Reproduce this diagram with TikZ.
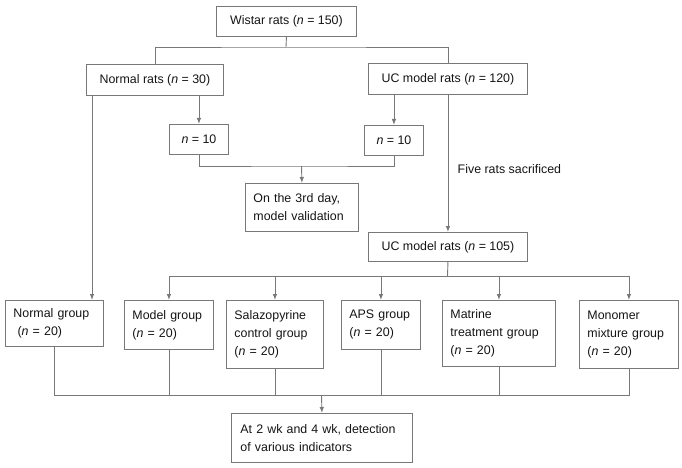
\documentclass[tikz,border=0pt]{standalone}
\usepackage{fontspec}
\setmainfont{Liberation Sans}
\usetikzlibrary{positioning,arrows.meta}
\definecolor{linegray}{HTML}{787878}
\definecolor{textgray}{HTML}{141414}

\tikzset{
  box/.style={draw=linegray, line width=0.9pt, text=textgray, inner sep=0pt,
    font=\fontsize{12.4}{18}\selectfont, anchor=north west},
  lbox/.style={box, align=left, inner xsep=8pt},
  conn/.style={draw=linegray, line width=0.9pt},
  arr/.style={conn, -{Latex[length=6pt,width=4.5pt]}}
}

\begin{document}
\begin{tikzpicture}[x=1pt,y=-1pt]
\useasboundingbox (0,0) rectangle (682,468);

% top of the tree
\node[box, minimum width=140, minimum height=30] (wistar) at (216,6) {Wistar rats (\textit{n} = 150)};
\node[box, minimum width=137, minimum height=31] (normal) at (86,64) {Normal rats (\textit{n} = 30)};
\node[box, minimum width=159, minimum height=31] (ucm) at (368,63) {UC model rats (\textit{n} = 120)};

\node[box, minimum width=59, minimum height=30] (na) at (169,124) {\textit{n} = 10};
\node[box, minimum width=59, minimum height=30] (nb) at (364,125) {\textit{n} = 10};
\node[lbox, text width=97, minimum height=48, inner xsep=8pt] (day3) at (245,183) {On the 3rd day,\\model validation};

\node[box, minimum width=159, minimum height=29] (ucm2) at (368,232) {UC model rats (\textit{n} = 105)};

% groups
\node[lbox, text width=82, minimum height=46] (g1) at (5,300) {Normal group\\~(\textit{n} = 20)};
\node[lbox, text width=73, minimum height=49] (g2) at (124,300) {Model group\\(\textit{n} = 20)};
\node[lbox, text width=81, minimum height=68] (g3) at (226,300) {Salazopyrine\\control group\\(\textit{n} = 20)};
\node[lbox, text width=63, minimum height=49] (g4) at (341,300) {APS group\\(\textit{n} = 20)};
\node[lbox, text width=97, minimum height=66] (g5) at (442,300) {Matrine\\treatment group\\(\textit{n} = 20)};
\node[lbox, text width=83, minimum height=68] (g6) at (579,300) {Monomer\\mixture group\\(\textit{n} = 20)};

\node[lbox, text width=163, minimum height=49, inner xsep=9pt] (result) at (231,413) {At 2 wk and 4 wk, detection\\of various indicators};

% junctions
\coordinate (s1) at (286,47);
\coordinate (s2) at (301.5,166);
\coordinate (s3) at (447.5,276);
\coordinate (s4) at (321.5,395);
\coordinate (p) at ([xshift=6]normal.south west);

\draw[conn] (wistar.south) -- (s1);
\draw[conn] (normal.north) |- (s1) -| (ucm.north);
\draw[arr] (na |- normal.south) -- (na.north);
\draw[arr] (nb |- ucm.south) -- (nb.north);
\draw[conn] (na.south) |- (s2) -| (nb.south);
\draw[arr] (s2) -- (day3.north);
\draw[arr] (ucm.south) -- node[right=6pt, pos=0.54, text=textgray, font=\fontsize{12.4}{18}\selectfont] {Five rats sacrificed} (ucm2.north);
\draw[arr] (p) -- (p |- g1.north);

\draw[conn] (ucm2.south) -- (s3);
\draw[conn] (g2 |- s3) -- (g6 |- s3);
\foreach \g in {g2,g3,g4,g5,g6}
  \draw[arr] (\g |- s3) -- (\g.north);

\draw[conn] (g1.south) |- (g6 |- s4) -- (g6.south);
\foreach \g in {g2,g3,g4,g5}
  \draw[conn] (\g.south) -- (\g |- s4);
\draw[arr] (s4) -- (result.north);
\end{tikzpicture}
\end{document}
